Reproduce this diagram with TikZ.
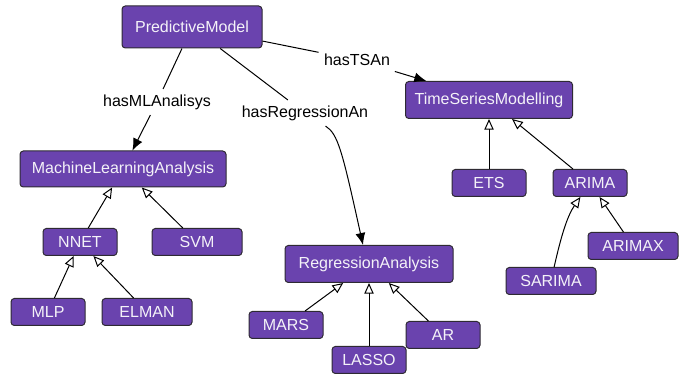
\documentclass[tikz,border=0pt]{standalone}
\usepackage{fontspec}
\setmainfont{Liberation Sans}
\usetikzlibrary{arrows.meta}
\definecolor{classfill}{HTML}{6A43AE}
\definecolor{classline}{HTML}{2E2A33}
\definecolor{classtext}{HTML}{F4F2F8}
\begin{document}
\begin{tikzpicture}[x=0.75pt,y=-0.75pt,
    font=\fontsize{12}{14}\selectfont,
    cls/.style={draw=classline,fill=classfill,text=classtext,rounded corners=2.5pt,line width=0.75pt,inner sep=2pt},
    big/.style={cls,minimum height=27.75pt},
    sub/.style={cls,minimum width=55.5pt,minimum height=20.25pt},
    wide/.style={sub,minimum width=67.5pt},
    rel/.style={black,line width=0.75pt},
    relto/.style={rel,-{Latex[length=9pt,width=7.5pt]}},
    isa/.style={black,line width=0.75pt,-{Triangle[open,length=8pt,width=7pt]}},
    lbl/.style={black,inner sep=4pt}]

      \useasboundingbox (0,0) rectangle (686,377);

      \node[cls,minimum width=105pt,minimum height=31.5pt] (pm) at (192,27) {PredictiveModel};
      \node[big,minimum width=154.5pt,minimum height=27pt] (mla) at (123,169) {MachineLearningAnalysis};
      \node[big,minimum width=126pt] (ra) at (369,264) {RegressionAnalysis};
      \node[big,minimum width=125.25pt] (tsm) at (489,100) {TimeSeriesModelling};

      \node[lbl] (mlLbl) at (157,102) {hasMLAnalisys};
      \node[lbl] (regLbl) at (305,113) {hasRegressionAn};
      \node[lbl] (tsLbl) at (357,60) {hasTSAn};

      \node[sub] (nnet) at (80,242) {NNET};
      \node[wide] (svm) at (197,242) {SVM};
      \node[sub] (mlp) at (48,312) {MLP};
      \node[wide] (elman) at (147,312) {ELMAN};

      \node[sub] (mars) at (286,325) {MARS};
      \node[sub] (ar) at (443,335) {AR};
      \node[sub] (lasso) at (369,360) {LASSO};

      \node[sub] (ets) at (489,183) {ETS};
      \node[sub] (arima) at (590,183) {ARIMA};
      \node[wide] (arimax) at (633,246) {ARIMAX};
      \node[wide] (sarima) at (551,281) {SARIMA};

      \draw[rel] (pm) -- (mlLbl);
      \draw[relto] (mlLbl) -- (mla);
      \draw[rel] (pm) -- (regLbl);
      \draw[relto] (regLbl) .. controls (338,134) and (342,150) .. ([xshift=-4.5pt]ra.north);
      \draw[rel] (pm) -- (tsLbl);
      \draw[relto] (tsLbl) -- (tsm);

      \draw[isa] (nnet) -- (mla);
      \draw[isa] (svm) -- (mla);
      \draw[isa] (mlp) -- (nnet);
      \draw[isa] (elman) -- (nnet);

      \draw[isa] (mars) -- (ra);
      \draw[isa] (lasso) -- (ra);
      \draw[isa] (ar) -- (ra);

      \draw[isa] (ets) -- (tsm);
      \draw[isa] (arima) -- (tsm);
      \draw[isa] (arimax) -- (arima);
      \draw[isa] (sarima) .. controls (562,232) and (568,215) .. (arima);

\end{tikzpicture}
\end{document}
